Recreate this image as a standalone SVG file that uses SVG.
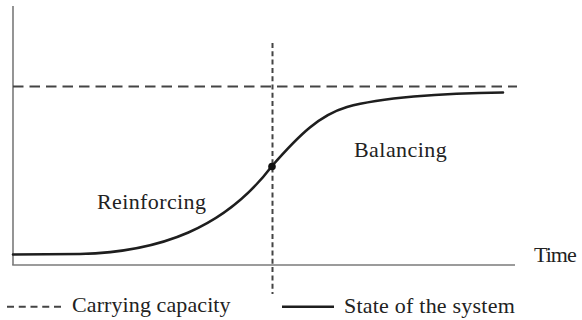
<svg xmlns="http://www.w3.org/2000/svg" width="582" height="320" viewBox="0 0 582 320">
<style>
  .axis{stroke:#7a7a7a;stroke-width:1.6;fill:none}
  .cap{stroke:#444;stroke-width:2;fill:none;stroke-dasharray:10.5 6}
  .vdash{stroke:#444;stroke-width:2;fill:none;stroke-dasharray:5 3.3}
  .curve{stroke:#1e1e1e;stroke-width:2.6;fill:none;stroke-linecap:round}
</style>
<rect width="582" height="320" fill="#ffffff"/>
<g id="axes">
  <line class="axis" x1="13" y1="6" x2="13" y2="265"/>
  <line class="axis" x1="12.2" y1="265" x2="515" y2="265"/>
</g>
<g id="reference-lines">
  <line class="cap" x1="13" y1="86.5" x2="517" y2="86.5"/>
  <line class="vdash" x1="272.5" y1="43" x2="272.5" y2="294"/>
</g>
<g id="state-curve">
  <path class="curve" d="M13,254.5 L80,254 C160,252 225,228 272,166 C300,134 320,115 347,107 C380,98 440,93 503,92.5"/>
  <circle cx="272" cy="166.5" r="3.8" fill="#111"/>
</g>
<g id="labels">
  <text x="97" y="209" font-family="Liberation Serif" font-size="22" fill="#222" letter-spacing="0.39">Reinforcing</text>
  <text x="354" y="157" font-family="Liberation Serif" font-size="22" fill="#222" letter-spacing="0.45">Balancing</text>
  <text x="534" y="262" font-family="Liberation Serif" font-size="22" fill="#222" letter-spacing="-1">Time</text>
</g>
<g id="legend">
  <line x1="7" y1="306.7" x2="61" y2="306.7" stroke="#444" stroke-width="2" stroke-dasharray="7 4.75"/>
  <line x1="282" y1="306.7" x2="334" y2="306.7" stroke="#1e1e1e" stroke-width="2.6"/>
  <text x="72" y="312" font-family="Liberation Serif" font-size="22" fill="#222" letter-spacing="0.1">Carrying capacity</text>
  <text x="344" y="313" font-family="Liberation Serif" font-size="22" fill="#222" letter-spacing="0.22">State of the system</text>
</g>
</svg>
